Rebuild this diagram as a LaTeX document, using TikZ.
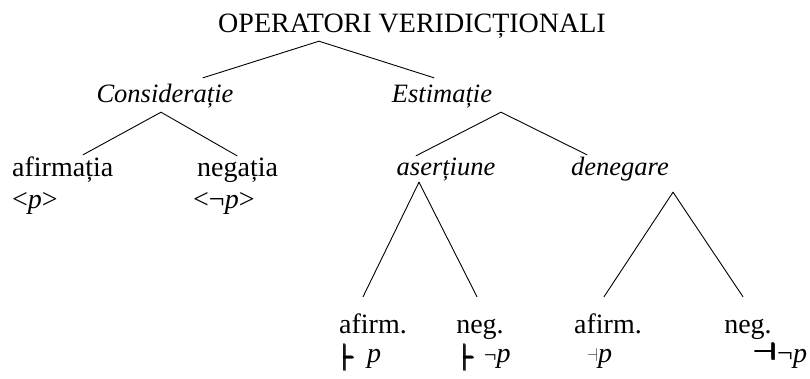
\documentclass[tikz,border=0pt]{standalone}
\usepackage{fontspec}
\setmainfont{Liberation Serif}
\usetikzlibrary{calc}
\tikzset{
    every picture/.style={line cap=round,line join=round},
    lbl/.style={anchor=base,inner sep=2pt,text height=18pt,text depth=6pt,
      font=\fontsize{28}{32}\selectfont},
    lblw/.style={lbl,anchor=base west},
    leaf/.style={lbl,text depth=0pt},
    cat/.style={lbl,font=\fontsize{26.5}{30}\selectfont\itshape},
    formula/.style={anchor=base west,inner sep=0pt,
      font=\fontsize{28}{32}\selectfont},
    branch/.style={draw=black,line width=0.9pt}
}
% thick strokes for the heavy turnstiles
\newcommand{\fat}[1]{\rlap{#1}\rlap{\raisebox{0.9pt}{#1}}\kern1pt\rlap{#1}\rlap{\raisebox{0.9pt}{#1}}\kern1pt#1}
\newcommand{\heavyvd}{\raisebox{-9pt}{\fat{\resizebox{11pt}{27pt}{$\vdash$}}}}
\newcommand{\heavydv}{\raisebox{2pt}{\fat{\resizebox{23pt}{17pt}{$\dashv$}}}}
\newcommand{\thindv}{\raisebox{1pt}{\color{black!70}\resizebox{11pt}{13pt}{$\dashv$}}}
\newcommand{\negsm}{{\fontsize{22}{24}\selectfont ¬}}
\begin{document}
\begin{tikzpicture}[x=1pt,y=1pt]
  \useasboundingbox (0,0) rectangle (810,378);
  % root and first split
  \node[lbl] (title) at (412,345) {OPERATORI VERIDICȚIONALI};
  \node[cat] (consid) at (165,275) {Considerație};
  \node[cat] (estim) at (442,275) {Estimație};
  \draw[branch] ([xshift=-93pt]title.south) -- ([xshift=38pt,yshift=5pt]consid.north);
  \draw[branch] ([xshift=-93pt]title.south) -- ([xshift=-8pt,yshift=5pt]estim.north);
  % considerație
  \node[lblw] (afirmatia) at (10,202) {afirmația};
  \node[lblw] (negatia) at (195,202) {negația};
  \node[formula] (posform) at (12,170) {<\textit{p}>};
  \node[formula] (negform) at (193,170) {<¬\textit{p}>};
  \draw[branch] ([xshift=-4pt,yshift=-1pt]consid.south) -- ([xshift=73pt,yshift=1pt]afirmatia.north west);
  \draw[branch] ([xshift=-4pt,yshift=-1pt]consid.south) -- ([xshift=42pt]negatia.north west);
  % estimație
  \node[cat] (asert) at (446,203) {aserțiune};
  \node[cat] (deneg) at (620,203) {denegare};
  \draw[branch] ([xshift=59pt,yshift=-1pt]estim.south) -- ([xshift=-30pt,yshift=-1pt]asert.north);
  \draw[branch] ([xshift=59pt,yshift=-1pt]estim.south) -- ([xshift=-33pt]deneg.north);
  % leaves
  \node[leaf] (afirmA) at (373,45) {afirm.};
  \node[leaf] (negA) at (480,45) {neg.};
  \node[leaf] (afirmB) at (608,45) {afirm.};
  \node[leaf] (negB) at (748,45) {neg.};
  \draw[branch] ([xshift=-27pt,yshift=1pt]asert.south) -- ([xshift=-10pt,yshift=16pt]afirmA.north);
  \draw[branch] ([xshift=-27pt,yshift=1pt]asert.south) -- ([xshift=-3pt,yshift=16pt]negA.north);
  \draw[branch] ([xshift=53pt,yshift=-9pt]deneg.south) -- ([xshift=-4pt,yshift=16pt]afirmB.north);
  \draw[branch] ([xshift=53pt,yshift=-9pt]deneg.south) -- ([xshift=-5pt,yshift=16pt]negB.north);
  % formulas under the leaves
  \node[formula] (symA) at (342,16) {\heavyvd\hspace{12pt}\textit{p}};
  \node[formula] (symB) at (462,16) {\heavyvd\hspace{9pt}\negsm\textit{p}};
  \node[formula] (symC) at (587,16) {\thindv\textit{p}};
  \node[formula] (symD) at (752,16) {\heavydv¬\textit{p}};
\end{tikzpicture}
\end{document}
